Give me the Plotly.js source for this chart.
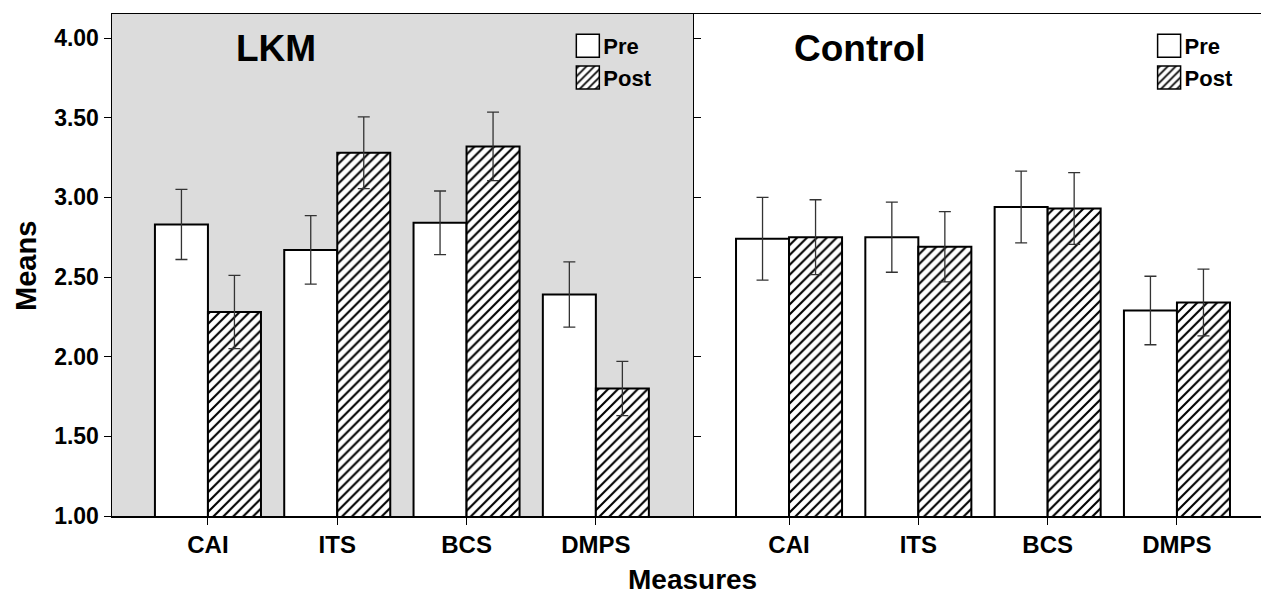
<!DOCTYPE html>
<html>
<head>
<meta charset="utf-8">
<script src="https://cdn.plot.ly/plotly-3.0.1.min.js"></script>
<style>html,body{margin:0;padding:0;background:#fff;}#chart{width:1261px;height:596px;}</style>
</head>
<body>
<div id="chart"></div>
<script>
// ---- data ----
const measures = ['CAI', 'ITS', 'BCS', 'DMPS'];
const lkmPre = [2.83, 2.67, 2.84, 2.39];
const lkmPreErr = [0.22, 0.215, 0.20, 0.205];
const lkmPost = [2.28, 3.28, 3.32, 1.80];
const lkmPostErr = [0.23, 0.225, 0.215, 0.17];
const ctrlPre = [2.74, 2.75, 2.94, 2.29];
const ctrlPreErr = [0.26, 0.22, 0.225, 0.215];
const ctrlPost = [2.75, 2.69, 2.93, 2.34];
const ctrlPostErr = [0.235, 0.22, 0.225, 0.21];
const yTicks = [1.0, 1.5, 2.0, 2.5, 3.0, 3.5, 4.0];

const FONT = 'Liberation Sans, Arial, sans-serif';
const errStyle = (arr) => ({type: 'data', array: arr, visible: true, color: '#333', thickness: 1.3, width: 6});
const preMarker = {color: 'white', line: {color: 'black', width: 2}};
const postMarker = {color: 'white', line: {color: 'black', width: 2},
  pattern: {shape: '/', fgcolor: 'black', bgcolor: 'white', size: 7, solidity: 0.3}};

const traces = [
  {type: 'bar', name: 'Pre', x: measures, y: lkmPre, error_y: errStyle(lkmPreErr), marker: preMarker,
   xaxis: 'x', yaxis: 'y', legend: 'legend', offsetgroup: 'pre'},
  {type: 'bar', name: 'Post', x: measures, y: lkmPost, error_y: errStyle(lkmPostErr), marker: postMarker,
   xaxis: 'x', yaxis: 'y', legend: 'legend', offsetgroup: 'post'},
  {type: 'bar', name: 'Pre', x: measures, y: ctrlPre, error_y: errStyle(ctrlPreErr), marker: preMarker,
   xaxis: 'x2', yaxis: 'y2', legend: 'legend2', offsetgroup: 'pre'},
  {type: 'bar', name: 'Post', x: measures, y: ctrlPost, error_y: errStyle(ctrlPostErr), marker: postMarker,
   xaxis: 'x2', yaxis: 'y2', legend: 'legend2', offsetgroup: 'post'}
];

const split = (694 - 112) / 1149;
const xCommon = {type: 'category', showline: true, mirror: true, linecolor: 'black', linewidth: 1.5,
  ticks: 'outside', ticklen: 7, tickcolor: 'black', showgrid: false, zeroline: false,
  tickfont: {family: FONT, size: 24, color: 'black', weight: 'bold'}};
const legendCommon = {yanchor: 'top', y: 0.978, xanchor: 'left', bgcolor: 'rgba(0,0,0,0)',
  font: {family: FONT, size: 22, color: 'black', weight: 'bold'}, tracegroupgap: 0, itemclick: false};

const layout = {
  width: 1261, height: 596,
  margin: {l: 112, r: 0, t: 14, b: 80},
  paper_bgcolor: 'white', plot_bgcolor: 'rgba(0,0,0,0)',
  barmode: 'group', bargap: 0.18, bargroupgap: 0,
  showlegend: true,
  xaxis: Object.assign({}, xCommon, {domain: [0, split], range: [-0.742, 3.759], anchor: 'y'}),
  xaxis2: Object.assign({}, xCommon, {domain: [split, 1], range: [-0.735, 3.65], anchor: 'y2'}),
  yaxis: {range: [1, 4.151], tickvals: yTicks, tickformat: '.2f', showline: true, linecolor: 'black', linewidth: 1.5,
    ticks: 'outside', ticklen: 7, tickcolor: 'black', showgrid: false, zeroline: false, anchor: 'x',
    tickfont: {family: FONT, size: 23, color: 'black', weight: 'bold'}},
  yaxis2: {matches: 'y', range: [1, 4.151], tickvals: yTicks, showticklabels: false, showline: true, linecolor: 'black', linewidth: 1.5,
    ticks: 'inside', ticklen: 7, tickcolor: 'black', showgrid: false, zeroline: false, anchor: 'x2'},
  legend: Object.assign({}, legendCommon, {x: 0.3928}),
  legend2: Object.assign({}, legendCommon, {x: 0.8987}),
  shapes: [
    {type: 'rect', xref: 'x domain', yref: 'y domain', x0: 0, x1: 1, y0: 0, y1: 1,
     fillcolor: '#dcdcdc', line: {width: 0}, layer: 'below'}
  ],
  annotations: [
    {text: 'LKM', xref: 'x domain', yref: 'paper', x: 0.281, y: 0.932, xanchor: 'center', yanchor: 'middle', showarrow: false,
     font: {family: FONT, size: 37, color: 'black', weight: 'bold'}},
    {text: 'Control', xref: 'x2 domain', yref: 'paper', x: 0.293, y: 0.932, xanchor: 'center', yanchor: 'middle', showarrow: false,
     font: {family: FONT, size: 37, color: 'black', weight: 'bold'}},
    {text: 'Measures', xref: 'paper', yref: 'paper', x: 0.5048, y: -0.127, xanchor: 'center', yanchor: 'middle', showarrow: false,
     font: {family: FONT, size: 28, color: 'black', weight: 'bold'}},
    {text: 'Means', xref: 'paper', yref: 'paper', x: -0.0753, y: 0.499, xanchor: 'center', yanchor: 'middle', textangle: -90, showarrow: false,
     font: {family: FONT, size: 29, color: 'black', weight: 'bold'}}
  ]
};

Plotly.newPlot('chart', traces, layout, {staticPlot: true, displayModeBar: false}).then(function (gd) {
  // enlarge legend swatches (both legends) to the reference's square boxes, close to the labels
  gd.querySelectorAll('.legendpoints path').forEach(function (p) {
    p.setAttribute('d', 'M16,11.5H-7V-11.5H16Z');
    p.style.strokeWidth = '1.5px';
  });
});
</script>
</body>
</html>
